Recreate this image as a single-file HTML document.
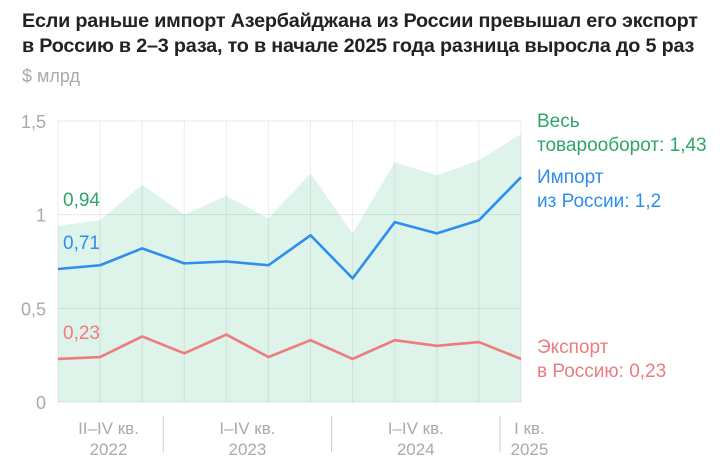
<!DOCTYPE html>
<html><head><meta charset="utf-8"><style>
body{margin:0;background:#fff;font-family:"Liberation Sans",sans-serif;}
#wrap{position:relative;width:727px;height:471px;overflow:hidden;}
.t{position:absolute;left:22px;font-size:19.8px;font-weight:bold;color:#222;letter-spacing:-0.2px;white-space:nowrap;}
</style></head><body>
<div id="wrap">
<div class="t" style="top:10px">Если раньше импорт Азербайджана из России превышал его экспорт</div>
<div class="t" style="top:35px">в Россию в 2–3 раза, то в начале 2025 года разница выросла до 5 раз</div>
<div style="position:absolute;left:22px;top:66px;font-size:18px;color:#aaa">$ млрд</div>
<svg id="c" width="727" height="471" style="position:absolute;left:0;top:0"></svg>
</div>
<script>
const categories=["II-22","III-22","IV-22","I-23","II-23","III-23","IV-23","I-24","II-24","III-24","IV-24","I-25"];
const totalValues=[0.94,0.97,1.16,1.00,1.10,0.98,1.22,0.90,1.28,1.21,1.29,1.43];
const importValues=[0.71,0.73,0.82,0.74,0.75,0.73,0.89,0.66,0.96,0.90,0.97,1.20];
const exportValues=[0.23,0.24,0.35,0.26,0.36,0.24,0.33,0.23,0.33,0.30,0.32,0.23];
const yTicks=[0,0.5,1,1.5];
const yTickLabels=["0","0,5","1","1,5"];
const groupLabels=[["II–IV кв.","2022"],["I–IV кв.","2023"],["I–IV кв.","2024"],["I кв.","2025"]];
const groupCenters=[1.2,4.5,8.5,11.2];
const groupSeparators=[2.5,6.5,10.5];

const svg=document.getElementById('c');
const NS="http://www.w3.org/2000/svg";
const x0=58,x1=521,y0=402,y15=121;
const X=i=>x0+i*(x1-x0)/(categories.length-1);
const Y=v=>y0-v*(y0-y15)/1.5;
function mk(tag,attrs,name){const e=document.createElementNS(NS,tag);for(const k in attrs)e.setAttribute(k,attrs[k]);


svg.appendChild(e);return e;}
let d=`M${X(0)},${Y(0)}`;totalValues.forEach((v,i)=>d+=`L${X(i)},${Y(v)}`);d+=`L${X(totalValues.length-1)},${Y(0)}Z`;
mk('path',{d,fill:'#def3e9'},'total-area');
yTicks.forEach((t,i)=>{mk('line',{x1:x0,x2:x1,y1:Y(t),y2:Y(t),stroke:'rgba(0,0,0,0.09)','stroke-width':1},'y-gridline');
const tx=mk('text',{x:46,y:Y(t)+7,'text-anchor':'end','font-size':18,fill:'#aaa','font-family':'Liberation Sans'},'y-tick-label');tx.textContent=yTickLabels[i];});
categories.forEach((c,i)=>mk('line',{x1:X(i),x2:X(i),y1:Y(0),y2:Y(1.5),stroke:'rgba(0,0,0,0.07)','stroke-width':1},'x-gridline'));
function line(vals,col,name){mk('polyline',{points:vals.map((v,i)=>X(i)+','+Y(v)).join(' '),fill:'none',stroke:col,'stroke-width':2.6,'stroke-linejoin':'round'},name);}
line(importValues,'#2d8ef0','import-line');
line(exportValues,'#ee7b7d','export-line');
function txt(x,y,s,col,name,anchor,fs){const t=mk('text',{x,y,'font-size':fs||19,fill:col,'font-family':'Liberation Sans','text-anchor':anchor||'start'},name);t.textContent=s;}
txt(63,Y(totalValues[0])-20,String(totalValues[0]).replace('.',','),'#2ea56a','total-start-label');
txt(63,Y(importValues[0])-20,String(importValues[0]).replace('.',','),'#2d8ef0','import-start-label');
txt(63,Y(exportValues[0])-20,String(exportValues[0]).replace('.',','),'#ee7b7d','export-start-label');
txt(537,127,'Весь','#2ea56a','total-legend');
txt(537,151,'товарооборот: '+String(totalValues[11]).replace('.',','),'#2ea56a','total-legend');
txt(537,183,'Импорт','#2d8ef0','import-legend');
txt(537,207,'из России: '+String(importValues[11]).replace('.',','),'#2d8ef0','import-legend');
txt(537,353,'Экспорт','#ee7b7d','export-legend');
txt(537,377,'в Россию: '+String(exportValues[11]).replace('.',','),'#ee7b7d','export-legend');
const step=(x1-x0)/(categories.length-1);
groupSeparators.forEach(g=>mk('line',{x1:x0+g*step,x2:x0+g*step,y1:416,y2:452,stroke:'#ccc','stroke-width':1},'group-separator'));
groupLabels.forEach((g,i)=>{const cx=x0+groupCenters[i]*step;txt(cx,434,g[0],'#aaa','x-group-label','middle',17);txt(cx,455,g[1],'#aaa','x-group-year','middle',17);});
</script>
</body></html>
